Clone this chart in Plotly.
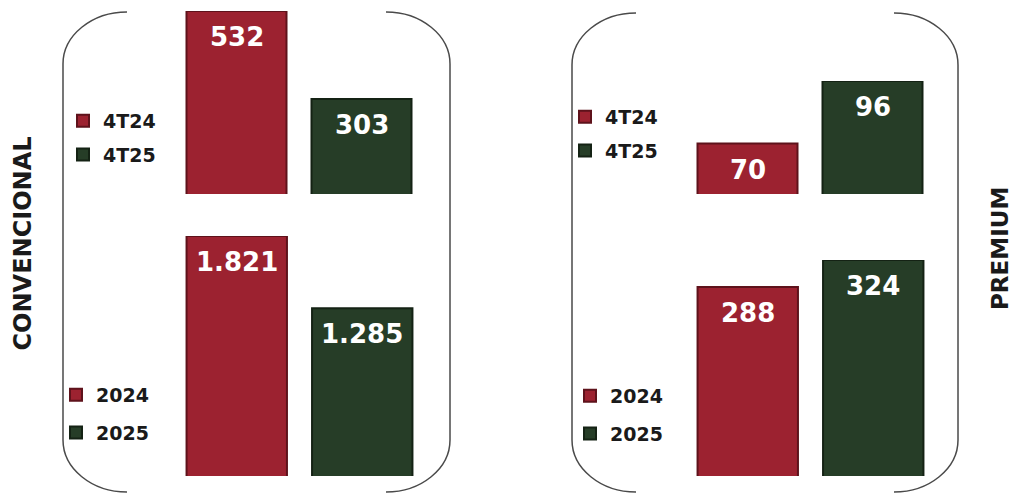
import plotly.graph_objects as go

W, H = 1013, 495

# ---- data ----
conv_q_labels = ["4T24", "4T25"]
conv_q_values = [532, 303]
conv_y_labels = ["2024", "2025"]
conv_y_values = [1821, 1285]
prem_q_labels = ["4T24", "4T25"]
prem_q_values = [70, 96]
prem_y_labels = ["2024", "2025"]
prem_y_values = [288, 324]
panel_titles = ["CONVENCIONAL", "PREMIUM"]

RED = "#9C2230"
GREEN = "#263D27"
RED_EDGE = "#5E121B"
GREEN_EDGE = "#142214"
colors = [RED, GREEN]
edges = [RED_EDGE, GREEN_EDGE]
FONT = "DejaVu Sans"


def px_x(p):
    return p / W


def px_y(p):
    return 1 - p / H


def fmt(v):
    return f"{v:,}".replace(",", ".")


fig = go.Figure()

# subplot specs: (labels, values, x-domain px, y-domain px (top,bottom), y-range, legend name, legend pos, gap)
panels = [
    (conv_q_labels, conv_q_values, (174, 424), (11, 194), (56, 532), "legend", (63, 102), 6),
    (conv_y_labels, conv_y_values, (174, 425), (236, 476), (40, 1821), "legend2", (56, 376), 10),
    (prem_q_labels, prem_q_values, (685, 935), (81, 194), (49, 96), "legend3", (565, 98), 6),
    (prem_y_labels, prem_y_values, (685, 936), (260, 476), (36, 324), "legend4", (570, 377), 10),
]

annotations = []
for i, (labels, values, xd, yd, yr, lg, lpos, gap) in enumerate(panels, start=1):
    xa = "x" if i == 1 else f"x{i}"
    ya = "y" if i == 1 else f"y{i}"
    for j, (lab, val) in enumerate(zip(labels, values)):
        fig.add_trace(go.Bar(
            x=[lab], y=[val], name=lab,
            marker=dict(color=colors[j], line=dict(color=edges[j], width=2)),
            xaxis=xa, yaxis=ya, legend=lg, legendgroup=f"{lg}_{j}",
            hoverinfo="skip",
        ))
        annotations.append(dict(
            x=j, y=val, xref=xa, yref=ya, text=f"<b>{fmt(val)}</b>",
            showarrow=False, yanchor="top", yshift=-9,
            font=dict(family=FONT, size=26, color="white"),
        ))
    axname = "xaxis" if i == 1 else f"xaxis{i}"
    ayname = "yaxis" if i == 1 else f"yaxis{i}"
    fig.layout[axname] = dict(domain=[px_x(xd[0]), px_x(xd[1])], anchor=ya,
                              visible=False, type="category", range=[-0.5, 1.5],
                              categoryorder="array", categoryarray=labels,
                              fixedrange=True)
    fig.layout[ayname] = dict(domain=[px_y(yd[1]), px_y(yd[0])], anchor=xa,
                              range=list(yr), visible=False, fixedrange=True)
    fig.layout[lg] = dict(
        x=px_x(lpos[0]), y=px_y(lpos[1]), xanchor="left", yanchor="top",
        bgcolor="rgba(0,0,0,0)", borderwidth=0, traceorder="grouped",
        tracegroupgap=gap,
        font=dict(family=FONT, size=19, color="#1A1A1A", weight="bold"),
    )

# panel titles (vertical)
annotations.append(dict(x=px_x(22.5), y=px_y(244), xref="paper", yref="paper",
                        xanchor="center", yanchor="middle",
                        text="<b>" + panel_titles[0] + "</b>", textangle=-90,
                        showarrow=False, font=dict(family=FONT, size=24, color="#1A1A1A")))
annotations.append(dict(x=px_x(1000), y=px_y(249), xref="paper", yref="paper",
                        xanchor="center", yanchor="middle",
                        text="<b>" + panel_titles[1] + "</b>", textangle=-90,
                        showarrow=False, font=dict(family=FONT, size=23, color="#1A1A1A")))


def bracket_paths(xl, xr, yt, yb, rx=64, ry=52):
    k = 0.55
    def P(x, y):
        return f"{px_x(x):.5f},{px_y(y):.5f}"
    left = (f"M {P(xl + rx, yt)} C {P(xl + rx - k * rx, yt)} {P(xl, yt + ry - k * ry)} {P(xl, yt + ry)} "
            f"L {P(xl, yb - ry)} C {P(xl, yb - ry + k * ry)} {P(xl + rx - k * rx, yb)} {P(xl + rx, yb)}")
    right = (f"M {P(xr - rx, yt)} C {P(xr - rx + k * rx, yt)} {P(xr, yt + ry - k * ry)} {P(xr, yt + ry)} "
             f"L {P(xr, yb - ry)} C {P(xr, yb - ry + k * ry)} {P(xr - rx + k * rx, yb)} {P(xr - rx, yb)}")
    return [left, right]


shapes = []
for path in bracket_paths(63, 450, 12, 492) + bracket_paths(572, 958, 13, 492):
    shapes.append(dict(type="path", path=path, xref="paper", yref="paper",
                       line=dict(color="#4A4A4A", width=1.5)))

fig.update_layout(
    width=W, height=H,
    margin=dict(l=0, r=0, t=0, b=0),
    paper_bgcolor="white", plot_bgcolor="white",
    barmode="overlay", bargap=0.2,
    showlegend=True,
    annotations=annotations,
    shapes=shapes,
    font=dict(family=FONT),
)

fig.write_html("out.html", config=dict(displayModeBar=False),
               post_script="document.body.style.margin='0';document.body.style.overflow='hidden';")
